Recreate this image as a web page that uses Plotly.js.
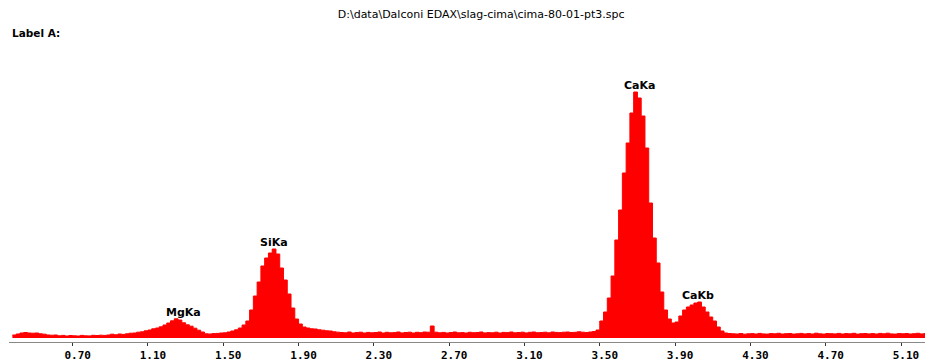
<!DOCTYPE html>
<html>
<head>
<meta charset="utf-8">
<script src="https://cdn.plot.ly/plotly-3.0.1.min.js"></script>
<style>html,body{margin:0;padding:0;background:#fff;}#chart{width:925px;height:363px;}</style>
</head>
<body>
<div id="chart"></div>
<script>
// Spectrum: counts per 0.02 keV channel, first channel at 0.38 keV
const startEnergy = 0.38;
const channelWidth = 0.02;
const counts = [
  30,40,50,55,50,48,50,42,38,
  30,28,30,22,26,20,25,22,20,26,22,21,27,25,28,26,30,38,32,40,36,42,
  48,50,58,62,72,80,92,100,112,130,150,172,192,180,152,132,118,98,78,60,42,40,44,46,50,52,60,70,82,100,130,170,
  280,420,560,720,800,850,890,840,700,580,440,300,190,140,110,100,92,90,82,78,72,70,
  62,58,55,52,60,50,54,58,50,56,52,55,60,50,57,52,54,60,51,55,58,50,57,53,60,58,
  120,
  58,52,56,50,55,60,52,54,50,57,53,55,60,51,54,52,58,50,56,54,60,52,55,58,51,57,60,53,55,58,52,60,56,54,58,60,55,57,62,58,
  55,60,65,80,170,260,400,620,980,1280,1650,1950,2250,2460,2400,2220,1900,1350,1000,750,460,280,190,150,160,220,280,310,330,350,360,310,260,210,170,110,70,50,45,
  42,40,45,38,42,44,40,46,41,39,44,42,47,40,43,45,39,42,46,41,44,40,48,42,39,45,43,41,46,40,44,42,47,39,43,45,41,44,40,46,42,48,41,39,44,42,45,40,43,47,41,44,42
];
const tickVals = [0.70,1.10,1.50,1.90,2.30,2.70,3.10,3.50,3.90,4.30,4.70,5.10];
const tickLabels = ["0.70","1.10","1.50","1.90","2.30","2.70","3.10","3.50","3.90","4.30","4.70","5.10"];
const peakNames = ["MgKa","SiKa","CaKa","CaKb"];
const peakEnergies = [1.29, 1.77, 3.71, 4.02];
const titleText = "D:\\data\\Dalconi EDAX\\slag-cima\\cima-80-01-pt3.spc";
const labelText = "Label A:";

function peakHeight(e){
  let m = 0;
  counts.forEach((c,i)=>{ const x = startEnergy + i*channelWidth; if (Math.abs(x-e) <= 0.07 && c > m) m = c; });
  return m;
}

const trace = {
  type: 'scatter', mode: 'lines',
  x0: startEnergy, dx: channelWidth, y: counts,
  line: {shape: 'hv', color: '#ff0000', width: 1},
  fill: 'tozeroy', fillcolor: '#ff0000',
  hoverinfo: 'skip'
};

const annotations = peakNames.map((n,i)=>({
  text: n, x: peakEnergies[i], y: peakHeight(peakEnergies[i]), xref: 'x', yref: 'y',
  xanchor: 'center', yanchor: 'bottom', yshift: -2, showarrow: false,
  font: {family: 'DejaVu Sans', size: 11, color: '#000', weight: 'bold'}
}));
annotations.push({
  text: labelText, xref: 'paper', yref: 'paper', x: 10/925 - 9/916, y: 1,
  xanchor: 'left', yanchor: 'middle', yshift: 27, showarrow: false,
  font: {family: 'DejaVu Sans', size: 10.5, color: '#000', weight: 'bold'}
});

const layout = {
  width: 925, height: 363,
  margin: {l: 9, r: 0, t: 60, b: 21},
  paper_bgcolor: '#fff', plot_bgcolor: '#fff',
  showlegend: false,
  title: {text: titleText, x: 332/925, xanchor: 'left', xref: 'paper', y: 1 - 14/363, yanchor: 'middle', yref: 'container',
          font: {family: 'DejaVu Sans', size: 11, color: '#000'}},
  xaxis: {
    range: [0.362, 5.2275], tickmode: 'array', tickvals: tickVals, ticktext: tickLabels,
    ticks: 'outside', ticklen: 3, tickwidth: 1, tickcolor: '#333',
    showline: true, linecolor: '#888', linewidth: 1, showgrid: false, zeroline: false,
    ticklabelshift: 5, ticklabelstandoff: 0,
    tickfont: {family: 'DejaVu Sans Mono', size: 11, color: '#000', weight: 'bold'}
  },
  yaxis: {range: [-40, 2780], visible: false, showgrid: false, zeroline: false},
  annotations: annotations
};

Plotly.newPlot('chart', [trace], layout, {displayModeBar: false, staticPlot: true});
</script>
</body>
</html>
